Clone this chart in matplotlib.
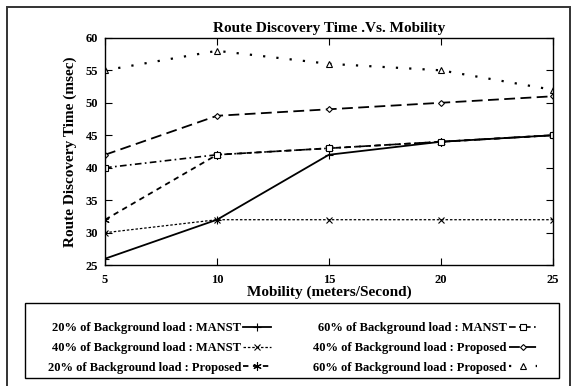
import matplotlib
matplotlib.use("Agg")
import matplotlib.pyplot as plt
from matplotlib.patches import Rectangle

# data
mobility = [5, 10, 15, 20, 25]
manst_20 = [26, 32, 42, 44, 45]
manst_40 = [30, 32, 32, 32, 32]
proposed_20 = [32, 42, 43, 44, 45]
manst_60 = [40, 42, 43, 44, 45]
proposed_40 = [42, 48, 49, 50, 51]
proposed_60 = [55, 58, 56, 55, 52]

yticks = [25, 30, 35, 40, 45, 50, 55, 60]

plt.rcParams["font.family"] = ["Liberation Serif", "DejaVu Serif"]
plt.rcParams["font.weight"] = "bold"

fig = plt.figure(figsize=(5.71, 3.86), dpi=100)
ax = fig.add_axes([0.184, 0.313, 0.784, 0.589])

# outer frame
fig.patches.append(Rectangle((7 / 571, -0.02), 563 / 571, 1.0 - 7 / 386 + 0.02,
                             transform=fig.transFigure, fill=False,
                             edgecolor="#333333", lw=1.4))
# key box
fig.patches.append(Rectangle((25 / 571, 1 - 378 / 386), 534 / 571, 75 / 386,
                             transform=fig.transFigure, fill=False,
                             edgecolor="black", lw=1.0))

ax.plot(mobility, manst_20, color="black", lw=1.3, ls="-",
        marker="+", ms=6, mew=0.8, label="20% of Background load : MANST")
ax.plot(mobility, manst_40, color="black", lw=0.9, ls=(0, (2, 1.5)),
        marker="x", ms=4, mew=0.8, label="40% of Background load : MANST")
ax.plot(mobility, proposed_20, color="black", lw=1.3, ls=(0, (3, 2.5)),
        marker=(6, 2, 0), ms=6, mew=0.8, label="20% of Background load : Proposed")
ax.plot(mobility, manst_60, color="black", lw=1.2, ls=(0, (4, 2, 1, 2)),
        marker="s", ms=4, mfc="white", mew=0.8, label="60% of Background load : MANST")
ax.plot(mobility, proposed_40, color="black", lw=1.3, ls=(0, (6, 3)),
        marker="D", ms=3, mfc="white", mew=0.8, label="40% of Background load : Proposed")
ax.plot(mobility, proposed_60, color="black", lw=1.6, ls=(0, (1, 5)),
        marker="^", ms=5, mfc="white", mew=0.8, label="60% of Background load : Proposed")

ax.set_xlim(5, 25)
ax.set_ylim(25, 60)
ax.set_xticks(mobility)
ax.set_yticks(yticks)
ax.tick_params(direction="in", top=True, right=True, length=5, labelsize=9)
ax.tick_params(axis="x", pad=6)
ax.tick_params(axis="y", pad=5)
for lab in ax.get_xticklabels() + ax.get_yticklabels():
    lab.set_fontweight("bold")
for s in ax.spines.values():
    s.set_linewidth(1.0)

ax.set_title("Route Discovery Time .Vs. Mobility", fontsize=11, fontweight="bold", pad=4)
ax.set_xlabel("Mobility (meters/Second)", fontsize=11, fontweight="bold", labelpad=0)
ax.set_ylabel("Route Discovery Time (msec)", fontsize=11, fontweight="bold", labelpad=6)

handles, labels = ax.get_legend_handles_labels()
leg = fig.legend(handles, labels, loc="upper left", ncol=2, markerfirst=False,
                 mode="expand",
                 bbox_to_anchor=(25 / 571, 0, 534 / 571, 1 - 300 / 386),
                 frameon=False,
                 prop={"size": 9, "weight": "bold"}, handlelength=2.2,
                 borderpad=1.3, labelspacing=0.6, handletextpad=0.2)

fig.savefig("out.png", dpi=100)
